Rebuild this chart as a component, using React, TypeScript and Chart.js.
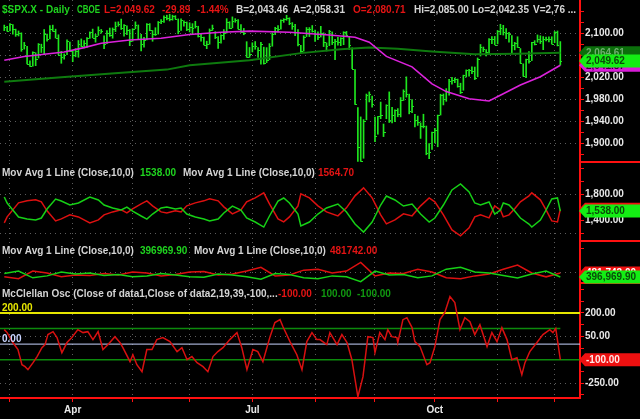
import { useEffect, useRef } from 'react';
import { Chart, registerables } from 'chart.js';

Chart.register(...registerables);

// ---------------- data ----------------
const monthIdx = [2, 24, 45, 65, 87, 109, 130, 151, 173, 193];
const monthLabels = ['Mar', 'Apr', 'May', 'Jun', 'Jul', 'Aug', 'Sep', 'Oct', 'Nov', 'Dec'];
const shownMonths = ['Apr', 'Jul', 'Oct'];

const highs = [
  2115.0, 2112.7,
  2117.5, 2115.8, 2107.7, 2104.3, 2100.9, 2083.5, 2076.3, 2050.1, 2066.4, 2064.6, 2081.4, 2080.3, 2106.9, 2098.7, 2113.9, 2114.9, 2107.6, 2097.4, 2067.2, 2062.8, 2088.0, 2084.1,
  2067.9, 2072.2, 2086.9, 2089.8, 2086.7, 2092.4, 2102.6, 2107.7, 2098.3, 2111.9, 2107.0, 2095.6, 2105.2, 2109.6, 2109.8, 2120.5, 2120.9, 2125.9, 2116.0, 2113.8, 2106.9,
  2108.4, 2120.9, 2115.2, 2098.4, 2092.9, 2117.7, 2117.7, 2105.1, 2110.2, 2121.5, 2124.9, 2131.8, 2133.0, 2134.7, 2133.0, 2132.2, 2126.2, 2126.2, 2122.5, 2120.7,
  2119.2, 2117.6, 2121.9, 2112.9, 2100.0, 2093.0, 2085.7, 2108.0, 2115.0, 2103.0, 2094.1, 2097.4, 2106.8, 2126.7, 2121.2, 2129.9, 2126.7, 2125.1, 2116.0, 2108.9, 2084.8, 2074.3,
  2082.8, 2085.1, 2074.0, 2083.7, 2074.9, 2074.0, 2081.3, 2100.7, 2111.0, 2114.2, 2124.4, 2126.7, 2132.8, 2128.3, 2119.5, 2116.4, 2106.6, 2078.3, 2095.6, 2110.6, 2110.5, 2114.2,
  2105.7, 2102.7, 2112.7, 2100.9, 2082.7, 2105.4, 2102.5, 2089.1, 2092.9, 2092.1, 2102.9, 2103.5, 2094.1, 2073.6, 2034.1, 1965.2, 1948.0, 1943.1, 1989.6, 1993.5, 1986.0,
  1947.8, 1948.9, 1975.0, 1935.1, 1970.1, 1993.5, 1965.3, 1961.1, 1963.1, 1983.2, 1997.3, 2020.9, 1989.4, 1979.6, 1952.9, 1949.5, 1937.2, 1952.9, 1931.4, 1899.5, 1920.5,
  1927.2, 1951.4, 1989.2, 1989.7, 1999.4, 2016.5, 2020.1, 2018.7, 2016.9, 2009.3, 2024.0, 2033.5, 2034.5, 2039.1, 2038.7, 2055.2, 2079.7, 2075.1, 2070.4, 2090.4, 2094.3, 2094.3,
  2105.2, 2116.5, 2114.6, 2108.8, 2101.9, 2095.9, 2083.7, 2093.8, 2072.3, 2044.6, 2053.2, 2066.7, 2083.6, 2086.7, 2097.1, 2095.6, 2094.1, 2093.0, 2093.8, 2093.8,
  2103.4, 2104.3, 2085.0,
];
const lows = [
  2104.9, 2103.8,
  2104.5, 2098.3, 2094.5, 2095.2, 2067.3, 2071.3, 2044.2, 2039.7, 2040.2, 2041.2, 2055.1, 2065.1, 2061.2, 2085.6, 2090.0, 2103.8, 2091.5, 2061.1, 2045.5, 2052.9, 2061.0, 2067.0,
  2048.4, 2057.3, 2056.5, 2076.1, 2073.3, 2074.4, 2090.8, 2091.8, 2083.9, 2096.1, 2100.3, 2072.0, 2081.2, 2094.4, 2091.1, 2103.2, 2112.9, 2107.0, 2094.9, 2097.4, 2077.5,
  2085.5, 2108.3, 2088.5, 2067.9, 2074.9, 2088.0, 2104.6, 2085.6, 2096.0, 2098.5, 2117.5, 2120.0, 2124.5, 2122.6, 2123.9, 2126.1, 2099.2, 2105.1, 2112.8, 2104.9,
  2102.5, 2099.1, 2109.6, 2093.2, 2085.7, 2079.1, 2072.1, 2080.2, 2105.2, 2090.4, 2072.5, 2082.1, 2088.9, 2100.4, 2108.6, 2110.0, 2120.1, 2108.1, 2101.8, 2097.4, 2056.3, 2056.3,
  2066.1, 2071.0, 2056.3, 2044.0, 2044.0, 2046.7, 2052.0, 2076.6, 2097.7, 2102.5, 2107.4, 2119.9, 2123.7, 2115.6, 2107.2, 2095.8, 2077.1, 2063.5, 2067.6, 2094.1, 2094.1, 2102.1,
  2085.3, 2088.6, 2093.3, 2075.9, 2067.9, 2077.6, 2079.5, 2052.1, 2078.3, 2077.6, 2079.3, 2094.1, 2070.5, 2035.7, 1970.9, 1867.0, 1867.1, 1872.8, 1942.7, 1975.2, 1965.5,
  1903.1, 1916.5, 1944.7, 1912.2, 1944.7, 1937.9, 1937.2, 1939.2, 1948.3, 1948.0, 1977.9, 1984.0, 1953.6, 1955.8, 1929.8, 1932.6, 1908.9, 1928.0, 1879.2, 1871.9, 1888.9,
  1900.7, 1893.7, 1951.4, 1969.8, 1976.4, 1987.5, 2007.6, 2010.3, 2002.0, 1990.4, 1996.5, 2020.5, 2022.3, 2026.6, 2015.9, 2020.9, 2058.8, 2066.5, 2058.8, 2063.1, 2081.3, 2079.1,
  2080.8, 2097.5, 2096.9, 2090.4, 2083.7, 2064.1, 2069.9, 2074.2, 2045.7, 2022.0, 2019.4, 2045.9, 2050.4, 2078.8, 2083.8, 2081.4, 2070.3, 2086.3, 2084.5, 2080.4,
  2082.9, 2077.1, 2042.35,
];
const closes = [
  2110.7, 2104.5,
  2117.4, 2107.8, 2098.5, 2101.0, 2071.3, 2079.4, 2044.2, 2040.2, 2066.0, 2053.4, 2081.2, 2074.3, 2099.5, 2089.3, 2108.1, 2104.4, 2091.5, 2061.1, 2056.2, 2061.0, 2086.2, 2067.9,
  2059.7, 2067.0, 2080.6, 2076.3, 2081.9, 2091.2, 2102.1, 2092.4, 2095.8, 2106.6, 2105.0, 2081.2, 2100.4, 2097.3, 2108.0, 2112.9, 2117.7, 2108.9, 2114.8, 2106.9, 2085.5,
  2108.3, 2114.5, 2089.5, 2080.2, 2088.0, 2116.1, 2105.3, 2099.1, 2098.5, 2121.1, 2122.7, 2129.2, 2127.8, 2125.9, 2130.8, 2126.1, 2104.2, 2123.5, 2120.8, 2107.4,
  2111.7, 2109.6, 2114.1, 2095.8, 2092.8, 2079.3, 2080.2, 2105.2, 2108.9, 2094.1, 2084.4, 2096.3, 2100.4, 2121.2, 2110.0, 2122.9, 2124.2, 2108.6, 2102.3, 2101.5, 2057.6, 2063.1,
  2077.4, 2076.8, 2068.8, 2081.3, 2046.7, 2051.3, 2076.6, 2099.6, 2109.0, 2107.4, 2124.3, 2126.6, 2128.3, 2119.2, 2114.2, 2102.2, 2079.7, 2067.6, 2093.3, 2108.6, 2108.6, 2103.8,
  2098.0, 2093.3, 2099.8, 2083.6, 2077.6, 2104.2, 2084.1, 2086.1, 2083.4, 2091.5, 2102.4, 2096.9, 2079.6, 2035.7, 1970.9, 1893.2, 1867.6, 1940.5, 1987.7, 1988.9, 1972.2,
  1913.9, 1948.9, 1951.1, 1921.2, 1969.4, 1942.0, 1952.3, 1961.1, 1953.0, 1978.1, 1995.3, 1990.2, 1958.0, 1967.0, 1942.7, 1938.8, 1932.2, 1931.3, 1881.8, 1884.1, 1920.0,
  1923.8, 1951.4, 1987.1, 1979.9, 1995.8, 2013.4, 2014.9, 2017.5, 2003.7, 1994.2, 2023.9, 2033.1, 2033.7, 2030.8, 2018.9, 2052.5, 2075.2, 2071.2, 2065.9, 2090.4, 2089.4, 2079.4,
  2104.1, 2109.8, 2102.3, 2099.9, 2099.2, 2078.6, 2081.7, 2075.0, 2046.0, 2023.0, 2053.2, 2050.4, 2083.6, 2081.2, 2089.2, 2086.6, 2089.1, 2088.9, 2090.1, 2080.4,
  2102.6, 2079.51, 2049.62,
];
const lastOpen = 2080.71;
const lastBid = 2043.46;
const lastAsk = 2058.31;

const ma50Idx = [0, 7, 14, 21, 28, 34, 44, 55, 65, 76, 86, 100, 114, 123, 128, 134, 143, 150, 155, 163, 170, 175, 181, 188, 195];
const ma50Val = [2051, 2058, 2062, 2066, 2074, 2082, 2088, 2091, 2098, 2102, 2104, 2102, 2097, 2093, 2084, 2058, 2039, 2008, 1994, 1981, 1977, 1990, 2006, 2021, 2041.87];

const ma200Idx = [0, 20, 40, 57, 65, 86, 104, 118, 128, 138, 150, 165, 180, 195];
const ma200Val = [2012, 2020, 2028, 2034, 2042, 2051, 2064, 2071, 2074, 2072, 2067, 2062, 2063, 2064.61];

const breadthIdx = [0, 1, 3, 5, 8, 11, 13, 15, 18, 20, 23, 26, 30, 33, 35, 38, 41, 43, 45, 48, 50, 52, 55, 57, 60, 62, 64, 67, 70, 72, 75, 77, 80, 83, 85, 88, 91, 93, 96, 98, 100, 103, 104, 107, 110, 113, 117, 120, 123, 126, 129, 132, 134, 137, 140, 143, 146, 149, 151, 154, 157, 160, 163, 165, 167, 170, 172, 174, 175, 177, 179, 181, 184, 185, 188, 190, 192, 194, 195];
const advIssues = [1754, 1662, 1554, 1446, 1415, 1400, 1431, 1569, 1723, 1692, 1631, 1662, 1754, 1708, 1631, 1585, 1554, 1600, 1538, 1462, 1415, 1492, 1585, 1600, 1569, 1585, 1492, 1446, 1415, 1385, 1415, 1508, 1615, 1554, 1431, 1369, 1292, 1462, 1692, 1739, 1662, 1492, 1308, 1369, 1492, 1585, 1646, 1523, 1338, 1215, 1369, 1631, 1769, 1708, 1615, 1646, 1492, 1369, 1431, 1631, 1862, 1954, 1831, 1662, 1631, 1677, 1492, 1554, 1662, 1631, 1538, 1431, 1338, 1292, 1400, 1554, 1723, 1739, 1538];
const decIssues = [1356, 1448, 1556, 1664, 1695, 1710, 1679, 1541, 1387, 1418, 1479, 1448, 1356, 1402, 1479, 1525, 1556, 1510, 1572, 1648, 1695, 1618, 1525, 1510, 1541, 1525, 1618, 1664, 1695, 1725, 1695, 1602, 1495, 1556, 1679, 1741, 1818, 1648, 1418, 1371, 1448, 1618, 1802, 1741, 1618, 1525, 1464, 1587, 1772, 1895, 1741, 1479, 1341, 1402, 1495, 1464, 1618, 1741, 1679, 1479, 1248, 1156, 1279, 1448, 1479, 1433, 1618, 1556, 1448, 1479, 1572, 1679, 1772, 1818, 1710, 1556, 1387, 1371, 1564.7];

const volIdx = [0, 5, 10, 15, 20, 25, 30, 35, 40, 45, 50, 55, 60, 65, 70, 75, 80, 85, 90, 95, 100, 105, 110, 115, 120, 125, 130, 135, 140, 145, 150, 155, 160, 165, 170, 175, 180, 185, 190, 195];
const advVolume = [470000, 520000, 380000, 420000, 500000, 460000, 480000, 430000, 450000, 400000, 420000, 470000, 440000, 400000, 390000, 460000, 440000, 400000, 350000, 470000, 450000, 380000, 360000, 420000, 400000, 300000, 520000, 440000, 450000, 380000, 420000, 560000, 600000, 500000, 480000, 430000, 376000, 460000, 520000, 396969.9];
const decVolume = [400000, 360000, 520000, 480000, 400000, 440000, 430000, 470000, 440000, 500000, 480000, 420000, 450000, 500000, 510000, 440000, 460000, 520000, 600000, 420000, 440000, 540000, 560000, 480000, 520000, 700000, 420000, 480000, 470000, 560000, 500000, 380000, 360000, 420000, 460000, 560000, 647000, 480000, 400000, 481742];

const oscIdx = [0, 1, 3, 4.8, 6.2, 7.3, 8.3, 10.1, 11.5, 13.2, 14.3, 15.3, 17.1, 18.5, 20.2, 22, 23.7, 25.8, 27.6, 29.3, 31.1, 32.9, 34.6, 36.4, 38.8, 40.6, 41.6, 44.1, 45.1, 46.5, 48.3, 50, 51.8, 53.5, 55.6, 58.1, 60.6, 62.3, 64.1, 65.8, 67.6, 69.7, 71.4, 73.2, 74.9, 76.7, 79.1, 81.6, 83.3, 85.1, 87.2, 88.9, 90.7, 93.2, 94.9, 96.7, 97.7, 100.2, 102.6, 104.4, 106.1, 107.9, 109.6, 110.7, 113.1, 114.2, 116.7, 118.4, 120.2, 121.9, 124, 125.8, 127.5, 129.3, 130, 131.7, 133.5, 134.5, 135.9, 137.7, 138, 139.8, 141.2, 143, 144, 145.8, 148.2, 149.3, 151, 152.8, 154.5, 156.3, 158, 159.8, 161.5, 163.3, 165, 166.8, 169.3, 171, 172.8, 174.5, 176.3, 178, 179.8, 181.5, 182.6, 184.3, 186.8, 188.9, 191.3, 192.4, 193.4, 195];
const oscVal = [93, 74, 10, -35, -132, -145, -164, -119, -80, -23, -3, 61, 80, 42, -55, 10, 42, 93, 74, 80, 29, 80, -35, -3, 48, 10, -23, -113, -68, -132, -177, -35, -35, 29, 42, 16, -48, -23, -100, -80, -119, -145, -177, -80, -48, -23, 29, 74, -23, -164, -35, -48, -113, 48, 138, 157, 113, 16, -68, -164, 16, 74, 29, 29, -3, 74, -3, 61, 10, -100, -338, -209, 48, 42, -55, 74, 29, 93, 48, 42, 10, 157, 170, 106, 16, -16, -132, -119, -16, 157, 203, 305, 267, 93, 170, 144, 61, 125, -16, 74, 16, 106, 29, -100, -87, -196, -119, -48, 10, 61, 93, 74, 100, -100];

const oscLevels = [200, 100, 0, -100];
const oscLevelColors = ['#e6e600', '#0c8a0c', '#c8d4ff', '#0c8a0c'];
const oscLevelWidths = [2, 1.5, 1, 1.5];

// ---------------- helpers ----------------
const FAMILY = '"Liberation Sans", Arial, sans-serif';
const FONT = `bold 10px ${FAMILY}`;
const X_MIN = -1.5;
const X_MAX = 201.9;
const GRID = '#5c5c5c';
const AXIS_RED = '#ff1010';
const LABEL = '#e8e8e8';
const GRAY_TXT = '#d4d4d4';
const GREEN_TXT = '#1fd41f';
const RED_TXT = '#e41414';

const fmt = (v: number) => v.toLocaleString('en-US', { minimumFractionDigits: 2, maximumFractionDigits: 2 });
const fmtPlain = (v: number) => v.toFixed(2);
const pts = (xs: number[], ys: number[]) => xs.map((x, i) => ({ x, y: ys[i] }));

type Seg = { t: string; x: number; y: number; c: string; w?: number };
type Marker = { v: number; bg: string; fg: string };

function overlay(segs: Seg[], markers: Marker[], sepBottom: boolean, closeTicks: boolean) {
  return {
    id: 'overlay',
    beforeDatasetsDraw(chart: any) {
      if (!closeTicks) return;
      const { ctx, chartArea } = chart;
      const xs = chart.scales.x;
      const ys = chart.scales.y;
      ctx.save();
      ctx.beginPath();
      ctx.rect(chartArea.left, chartArea.top, chartArea.right - chartArea.left, chartArea.bottom - chartArea.top);
      ctx.clip();
      ctx.fillStyle = '#1ee61e';
      closes.forEach((c, i) => {
        const px = Math.round(xs.getPixelForValue(i));
        const py = Math.round(ys.getPixelForValue(c));
        ctx.fillRect(px, py, 2, 1);
      });
      ctx.restore();
    },
    afterDraw(chart: any) {
      const { ctx, chartArea, width } = chart;
      const ys = chart.scales.y;
      ctx.save();
      ctx.font = FONT;
      ctx.textBaseline = 'alphabetic';
      ctx.save();
      ctx.beginPath();
      ctx.rect(0, 0, chartArea.right - 1, chart.height);
      ctx.clip();
      for (const s of segs) {
        ctx.fillStyle = s.c;
        if (s.w) ctx.fillText(s.t, s.x, s.y, s.w);
        else ctx.fillText(s.t, s.x, s.y);
      }
      ctx.restore();
      if (sepBottom) {
        ctx.strokeStyle = AXIS_RED;
        ctx.lineWidth = 2;
        ctx.beginPath();
        ctx.moveTo(chartArea.right, chartArea.bottom - 1);
        ctx.lineTo(width, chartArea.bottom - 1);
        ctx.stroke();
      }
      const x0 = chartArea.right;
      for (const m of markers) {
        const y = ys.getPixelForValue(m.v);
        ctx.fillStyle = m.bg;
        ctx.beginPath();
        ctx.moveTo(x0 - 1, y);
        ctx.lineTo(x0 + 5, y - 6.5);
        ctx.lineTo(width, y - 6.5);
        ctx.lineTo(width, y + 6.5);
        ctx.lineTo(x0 + 5, y + 6.5);
        ctx.closePath();
        ctx.fill();
        ctx.fillStyle = m.fg;
        ctx.textBaseline = 'middle';
        ctx.fillText(fmt(m.v), x0 + 6, y + 0.5);
      }
      ctx.restore();
    },
  };
}

function xScale(showLabels: boolean) {
  return {
    type: 'linear',
    min: X_MIN,
    max: X_MAX,
    bounds: 'data',
    offset: false,
    afterBuildTicks: (s: any) => {
      s.ticks = monthIdx.map((v) => ({ value: v }));
    },
    afterFit: (s: any) => {
      s.height = showLabels ? 21 : 0;
      s.paddingLeft = 0;
      s.paddingRight = 0;
    },
    grid: {
      offset: false,
      color: GRID,
      lineWidth: 1,
      drawTicks: showLabels,
      tickLength: 4,
      tickColor: AXIS_RED,
      tickWidth: 1,
    },
    border: { display: showLabels, color: AXIS_RED, width: 2, dash: [1, 4] },
    ticks: {
      display: showLabels,
      autoSkip: false,
      maxRotation: 0,
      padding: 2,
      color: LABEL,
      font: { family: FAMILY, size: 10, weight: 'bold' },
      callback: (v: number) => {
        const k = monthIdx.indexOf(v);
        const m = k >= 0 ? monthLabels[k] : '';
        return shownMonths.includes(m) ? m : '';
      },
    },
  };
}

function yScale(min: number, max: number, ticks: number[], labels: number[], grids: number[]) {
  return {
    type: 'linear',
    position: 'right',
    min,
    max,
    bounds: 'data',
    afterBuildTicks: (s: any) => {
      s.ticks = ticks.map((v) => ({ value: v }));
    },
    afterFit: (s: any) => {
      s.width = 60;
      s.paddingTop = 0;
      s.paddingBottom = 0;
    },
    grid: {
      color: (c: any) => (c.tick && grids.includes(c.tick.value) ? GRID : 'rgba(0,0,0,0)'),
      lineWidth: 1,
      drawTicks: true,
      tickLength: 4,
      tickColor: AXIS_RED,
      tickWidth: 1,
    },
    border: { color: AXIS_RED, width: 2, dash: [1, 4] },
    ticks: {
      padding: 1,
      color: LABEL,
      autoSkip: false,
      font: { family: FAMILY, size: 10, weight: 'bold' },
      callback: (v: number) => (labels.includes(v) ? fmt(v) : ''),
    },
  };
}

const baseOptions = {
  responsive: false,
  animation: false,
  devicePixelRatio: 1,
  events: [],
  layout: { padding: 0, autoPadding: false },
  plugins: { legend: { display: false }, tooltip: { enabled: false } },
};

const lineDs = (data: any[], color: string, width: number, extra: any = {}) => ({
  type: 'line',
  data,
  borderColor: color,
  borderWidth: width,
  pointRadius: 0,
  fill: false,
  tension: 0,
  ...extra,
});

function priceConfig(): any {
  const n = closes.length;
  const last = closes[n - 1];
  const chg = last - closes[n - 2];
  const pct = (chg / closes[n - 2]) * 100;
  const segs: Seg[] = [
    { t: '$SPX.X - Daily', x: 2, y: 13, c: GREEN_TXT },
    { t: 'CBOE', x: 77, y: 13, c: GREEN_TXT, w: 23 },
    { t: `L=${fmt(last)}`, x: 104, y: 13, c: RED_TXT },
    { t: chg.toFixed(2), x: 162, y: 13, c: RED_TXT },
    { t: `${pct.toFixed(2)}%`, x: 197, y: 13, c: RED_TXT },
    { t: `B=${fmt(lastBid)}`, x: 236, y: 13, c: GRAY_TXT },
    { t: `A=${fmt(lastAsk)}`, x: 293, y: 13, c: GRAY_TXT },
    { t: `O=${fmt(lastOpen)}`, x: 353, y: 13, c: RED_TXT },
    { t: `Hi=${fmt(highs[n - 1])}`, x: 414, y: 13, c: GRAY_TXT },
    { t: `Lo=${fmt(lows[n - 1])}`, x: 472, y: 13, c: GRAY_TXT },
    { t: 'V=2,76 ...', x: 533, y: 13, c: GRAY_TXT },
  ];
  const markers: Marker[] = [
    { v: ma50Val[ma50Val.length - 1], bg: '#d81cd8', fg: '#3a003a' },
    { v: ma200Val[ma200Val.length - 1], bg: '#0b6e0b', fg: '#6fae6f' },
    { v: last, bg: '#14ee14', fg: '#0b4a0b' },
  ];
  const ticks: number[] = [];
  for (let v = 1880; v <= 2140; v += 20) ticks.push(v);
  const lbl = [1900, 1940, 1980, 2020, 2060, 2100];
  return {
    type: 'bar',
    data: {
      datasets: [
        lineDs(pts(ma50Idx, ma50Val), '#dc22dc', 1.6),
        lineDs(pts(ma200Idx, ma200Val), '#0e7a0e', 2),
        {
          type: 'bar',
          data: highs.map((h, i) => ({ x: i, y: [lows[i], h] })),
          backgroundColor: '#1ee61e',
          borderWidth: 0,
          barThickness: 1,
        },
      ],
    },
    options: {
      ...baseOptions,
      scales: { x: xScale(false), y: yScale(1864.2, 2160.6, ticks, lbl, lbl) },
    },
    plugins: [overlay(segs, markers, true, true)],
  };
}

function breadthConfig(): any {
  const g = advIssues[advIssues.length - 1];
  const r = decIssues[decIssues.length - 1];
  const segs: Seg[] = [
    { t: 'Mov Avg 1 Line (Close,10,0)', x: 2, y: 13, c: GRAY_TXT },
    { t: fmtPlain(g), x: 140, y: 13, c: GREEN_TXT },
    { t: 'Mov Avg 1 Line (Close,10,0)', x: 183, y: 13, c: GRAY_TXT },
    { t: fmtPlain(r), x: 318, y: 13, c: RED_TXT },
  ];
  const markers: Marker[] = [
    { v: r, bg: '#ee1010', fg: '#ffffff' },
    { v: g, bg: '#14ee14', fg: '#0b4a0b' },
  ];
  return {
    type: 'line',
    data: {
      datasets: [
        lineDs(pts(breadthIdx, advIssues), '#16d016', 1.5),
        lineDs(pts(breadthIdx, decIssues), '#dd1010', 1.5),
      ],
    },
    options: {
      ...baseOptions,
      scales: {
        x: xScale(false),
        y: yScale(1062, 2277, [1200, 1400, 1600, 1800, 2000, 2200], [1400, 1800], [1200, 1800]),
      },
    },
    plugins: [overlay(segs, markers, true, false)],
  };
}

function volumeConfig(): any {
  const g = advVolume[advVolume.length - 1];
  const r = decVolume[decVolume.length - 1];
  const segs: Seg[] = [
    { t: 'Mov Avg 1 Line (Close,10,0)', x: 2, y: 12, c: GRAY_TXT },
    { t: fmtPlain(g), x: 140, y: 12, c: GREEN_TXT },
    { t: 'Mov Avg 1 Line (Close,10,0)', x: 194, y: 12, c: GRAY_TXT },
    { t: fmtPlain(r), x: 330, y: 12, c: RED_TXT },
  ];
  const markers: Marker[] = [
    { v: r, bg: '#ee1010', fg: '#ffffff' },
    { v: g, bg: '#14ee14', fg: '#0b4a0b' },
  ];
  return {
    type: 'line',
    data: {
      datasets: [
        lineDs(pts(volIdx, advVolume), '#16d016', 1.5),
        lineDs(pts(volIdx, decVolume), '#dd1010', 1.5),
      ],
    },
    options: {
      ...baseOptions,
      scales: {
        x: xScale(false),
        y: yScale(251000, 1126000, [500000, 1000000], [], [500000]),
      },
    },
    plugins: [overlay(segs, markers, true, false)],
  };
}

function oscConfig(): any {
  const last = oscVal[oscVal.length - 1];
  const segs: Seg[] = [
    { t: 'McClellan Osc (Close of data1,Close of data2,19,39,-100,...', x: 2, y: 13, c: GRAY_TXT },
    { t: fmtPlain(last), x: 278, y: 13, c: RED_TXT },
    { t: fmtPlain(oscLevels[1]), x: 321, y: 13, c: '#109810' },
    { t: fmtPlain(oscLevels[3]), x: 357, y: 13, c: '#109810' },
    { t: fmtPlain(oscLevels[0]), x: 2, y: 27, c: '#e6e600' },
    { t: fmtPlain(oscLevels[2]), x: 2, y: 58, c: '#c8d4ff' },
  ];
  const markers: Marker[] = [{ v: last, bg: '#ee1010', fg: '#ffe8e8' }];
  const levelSets = oscLevels.map((lv, i) =>
    lineDs(
      [
        { x: X_MIN, y: lv },
        { x: i === 1 ? oscIdx[oscIdx.length - 1] : X_MAX, y: lv },
      ],
      oscLevelColors[i],
      oscLevelWidths[i],
    ),
  );
  return {
    type: 'line',
    data: {
      datasets: [lineDs(pts(oscIdx, oscVal), '#d81010', 1.5), ...levelSets],
    },
    options: {
      ...baseOptions,
      scales: {
        x: xScale(true),
        y: yScale(-346, 386, [-325, -250, -175, -100, -25, 50, 125, 200, 275, 350], [-250, -100, 50, 200], [-250, -100, 50, 200]),
      },
    },
    plugins: [overlay(segs, markers, false, false)],
  };
}

export default function App() {
  const c1 = useRef<HTMLCanvasElement>(null);
  const c2 = useRef<HTMLCanvasElement>(null);
  const c3 = useRef<HTMLCanvasElement>(null);
  const c4 = useRef<HTMLCanvasElement>(null);

  useEffect(() => {
    const charts = [
      new Chart(c1.current as HTMLCanvasElement, priceConfig()),
      new Chart(c2.current as HTMLCanvasElement, breadthConfig()),
      new Chart(c3.current as HTMLCanvasElement, volumeConfig()),
      new Chart(c4.current as HTMLCanvasElement, oscConfig()),
    ];
    return () => charts.forEach((c) => c.destroy());
  }, []);

  const cs = (top: number) => ({ position: 'absolute' as const, left: 0, top, display: 'block' });
  return (
    <div style={{ position: 'fixed', left: 0, top: 0, width: 640, height: 419, background: '#000', overflow: 'hidden' }}>
      <canvas ref={c1} width={640} height={163} style={cs(0)} />
      <canvas ref={c2} width={640} height={79} style={cs(163)} />
      <canvas ref={c3} width={640} height={42} style={cs(242)} />
      <canvas ref={c4} width={640} height={135} style={cs(284)} />
    </div>
  );
}
